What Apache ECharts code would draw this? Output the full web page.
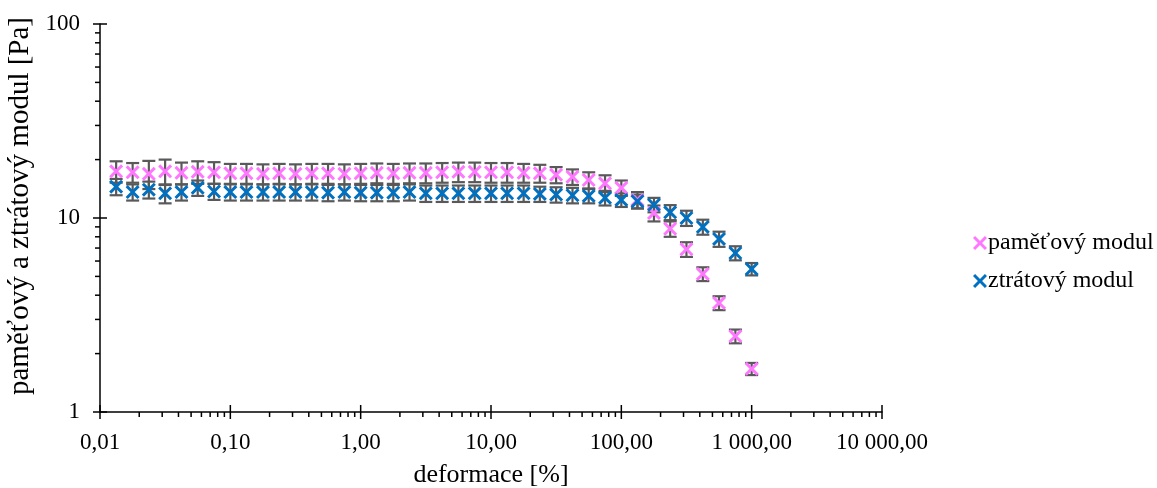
<!DOCTYPE html>
<html>
<head>
<meta charset="utf-8">
<script src="https://cdn.jsdelivr.net/npm/echarts@6/dist/echarts.min.js"></script>
<style>html,body{margin:0;padding:0;background:#fff}#c{width:1157px;height:488px}</style>
</head>
<body>
<div id="c"></div>
<script>
// deformation [%]
const strain = [0.0133,0.0178,0.0237,0.0316,0.0422,0.0562,0.075,0.1,
  0.133,0.178,0.237,0.316,0.422,0.562,0.75,1,
  1.33,1.78,2.37,3.16,4.22,5.62,7.5,10,
  13.3,17.8,23.7,31.6,42.2,56.2,75,100,
  133,178,237,316,422,562,750,1000];
// storage modulus [Pa]
const storage = [17.4,17.2,16.9,17.4,17.1,17.3,17.2,17.0,
  17.0,16.9,17.0,16.9,17.0,17.0,16.9,17.0,
  17.1,17.0,17.1,17.1,17.2,17.3,17.3,17.2,
  17.2,17.1,17.0,16.7,16.3,15.7,15.1,14.3,
  12.4,10.6,8.8,6.9,5.15,3.65,2.46,1.67];
const storageErr = [2.2,2.0,2.8,2.6,2.2,2.3,2.2,2.0,
  2.0,2.0,2.0,2.0,2.0,2.0,2.0,2.0,
  2.0,2.0,2.0,2.0,2.0,2.0,2.0,2.0,
  2.0,1.9,1.8,1.6,1.5,1.5,1.5,1.3,
  1.2,1.0,0.8,0.6,0.42,0.3,0.2,0.12];
// loss modulus [Pa]
const loss = [14.5,13.6,14.0,13.4,13.6,14.3,13.7,13.6,
  13.6,13.6,13.6,13.6,13.6,13.5,13.6,13.5,
  13.5,13.5,13.6,13.4,13.4,13.4,13.4,13.4,
  13.4,13.4,13.3,13.2,13.1,13.0,12.7,12.4,
  12.2,11.7,10.7,10.0,9.0,7.8,6.6,5.46];
const lossErr = [1.4,1.3,1.4,1.5,1.3,1.3,1.3,1.3,
  1.3,1.3,1.3,1.3,1.3,1.3,1.3,1.3,
  1.3,1.3,1.3,1.3,1.3,1.3,1.3,1.3,
  1.3,1.3,1.2,1.2,1.2,1.1,1.1,1.0,
  1.0,1.0,0.95,0.9,0.8,0.7,0.55,0.4];

const xTickLabels = ['0,01','0,10','1,00','10,00','100,00','1 000,00','10 000,00'];
const yTickLabels = ['1','10','100'];
const xMajor = [0.01,0.1,1,10,100,1000,10000];
const yMajor = [1,10,100];
const minorMult = [2,3,4,5,6,7,8,9];

const seriesNames = ['paměťový modul','ztrátový modul'];
const colors = ['#FF77FF','#0070C0'];
const errColor = '#595959';
const font = 'Liberation Serif';
const X_SYMBOL = 'path://M0,1.5 L1.5,0 L5,3.5 L8.5,0 L10,1.5 L6.5,5 L10,8.5 L8.5,10 L5,6.5 L1.5,10 L0,8.5 L3.5,5 Z';

// tick items: [x, y, kind] kind 0 x-minor, 1 x-major, 2 y-minor, 3 y-major
const tickItems = [];
xMajor.forEach(v => tickItems.push([v, 1, 1]));
yMajor.forEach(v => tickItems.push([0.01, v, 3]));
xMajor.slice(0, -1).forEach(v => minorMult.forEach(m => tickItems.push([v * m, 1, 0])));
yMajor.slice(0, -1).forEach(v => minorMult.forEach(m => tickItems.push([0.01, v * m, 2])));

function errRender(params, api) {
  const x = api.value(0), y = api.value(1), e = api.value(2);
  const t = api.coord([x, y + e]);
  const b = api.coord([x, y - e]);
  const w = 6.5;
  const st = {stroke: errColor, lineWidth: 2.2};
  return {type: 'group', children: [
    {type: 'line', shape: {x1: t[0], y1: t[1], x2: b[0], y2: b[1]}, style: st},
    {type: 'line', shape: {x1: t[0] - w, y1: t[1], x2: t[0] + w, y2: t[1]}, style: st},
    {type: 'line', shape: {x1: b[0] - w, y1: b[1], x2: b[0] + w, y2: b[1]}, style: st}
  ]};
}
function tickRender(params, api) {
  const p = api.coord([api.value(0), api.value(1)]);
  const k = api.value(2);
  let s;
  if (k === 0) s = {x1: p[0], y1: p[1], x2: p[0], y2: p[1] + 5};
  else if (k === 1) s = {x1: p[0], y1: p[1] - 7, x2: p[0], y2: p[1] + 7};
  else if (k === 2) s = {x1: p[0] - 5, y1: p[1], x2: p[0], y2: p[1]};
  else s = {x1: p[0] - 7, y1: p[1], x2: p[0] + 7, y2: p[1]};
  return {type: 'line', shape: s, style: {stroke: '#000', lineWidth: 1.5}};
}

const chart = echarts.init(document.getElementById('c'), null, {renderer: 'canvas'});
chart.setOption({
  animation: false,
  textStyle: {fontFamily: font},
  grid: {left: 100, right: 275, top: 24, bottom: 76, containLabel: false, outerBoundsMode: 'none'},
  legend: {
    data: seriesNames,
    orient: 'vertical',
    left: 968, top: 226,
    itemWidth: 14, itemHeight: 14, itemGap: 14,
    textStyle: {fontFamily: font, fontSize: 24, color: '#000', padding: [0,0,0,-4]}
  },
  xAxis: {
    type: 'log', logBase: 10, min: 0.01, max: 10000,
    name: 'deformace [%]', nameLocation: 'middle', nameGap: 50,
    nameTextStyle: {fontFamily: font, fontSize: 26, color: '#000'},
    axisLine: {show: true, lineStyle: {color: '#000', width: 1.5}},
    axisTick: {show: false},
    splitLine: {show: false},
    axisLabel: {fontFamily: font, fontSize: 23, color: '#000', margin: 19,
      formatter: v => xTickLabels[Math.round(Math.log10(v) + 2)]}
  },
  yAxis: {
    type: 'log', logBase: 10, min: 1, max: 100,
    name: 'paměťový a ztrátový modul [Pa]', nameLocation: 'middle', nameGap: 56,
    nameTextStyle: {fontFamily: font, fontSize: 29, color: '#000', padding: [0, 0, 0, 24]},
    axisLine: {show: true, lineStyle: {color: '#000', width: 1.5}},
    axisTick: {show: false},
    splitLine: {show: false},
    axisLabel: {fontFamily: font, fontSize: 23, color: '#000', margin: 20,
      formatter: v => yTickLabels[Math.round(Math.log10(v))]}
  },
  series: [
    {type: 'custom', name: 'errS', renderItem: errRender, z: 2, silent: true,
      data: strain.map((x, i) => [x, storage[i], storageErr[i]])},
    {type: 'custom', name: 'errL', renderItem: errRender, z: 2, silent: true,
      data: strain.map((x, i) => [x, loss[i], lossErr[i]])},
    {type: 'scatter', name: seriesNames[0], symbol: X_SYMBOL, symbolSize: 14, z: 3,
      itemStyle: {color: colors[0], opacity: 1},
      data: strain.map((x, i) => [x, storage[i]])},
    {type: 'scatter', name: seriesNames[1], symbol: X_SYMBOL, symbolSize: 14, z: 4,
      itemStyle: {color: colors[1], opacity: 1},
      data: strain.map((x, i) => [x, loss[i]])},
    {type: 'custom', name: 'ticks', renderItem: tickRender, clip: false, z: 5, silent: true,
      data: tickItems}
  ]
});
</script>
</body>
</html>
